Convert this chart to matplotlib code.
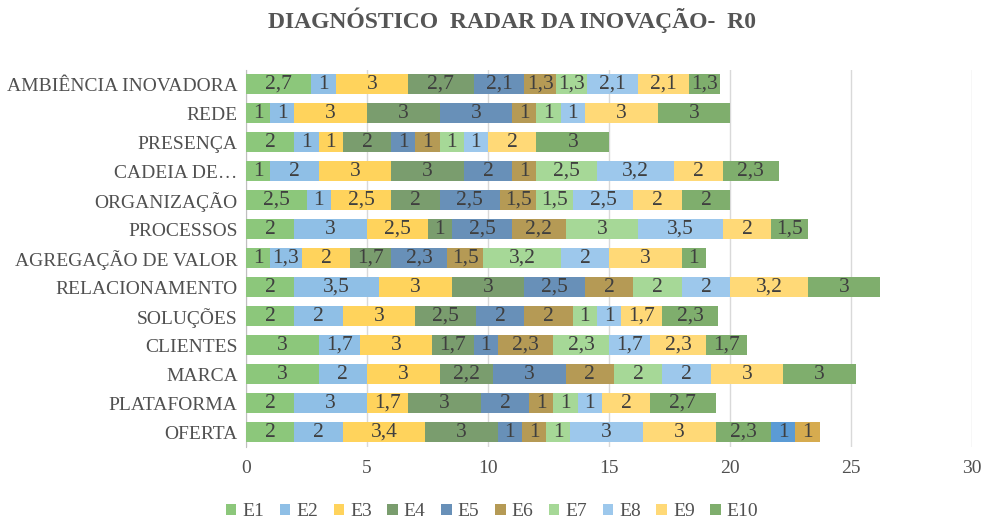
import matplotlib
matplotlib.use("Agg")
import matplotlib.pyplot as plt
import numpy as np

categories = ["AMBIÊNCIA INOVADORA", "REDE", "PRESENÇA", "CADEIA DE…", "ORGANIZAÇÃO",
              "PROCESSOS", "AGREGAÇÃO DE VALOR", "RELACIONAMENTO", "SOLUÇÕES",
              "CLIENTES", "MARCA", "PLATAFORMA", "OFERTA"]

E1 = [2.7, 1, 2, 1, 2.5, 2, 1, 2, 2, 3, 3, 2, 2]
E2 = [1, 1, 1, 2, 1, 3, 1.3, 3.5, 2, 1.7, 2, 3, 2]
E3 = [3, 3, 1, 3, 2.5, 2.5, 2, 3, 3, 3, 3, 1.7, 3.4]
E4 = [2.7, 3, 2, 3, 2, 1, 1.7, 3, 2.5, 1.7, 2.2, 3, 3]
E5 = [2.1, 3, 1, 2, 2.5, 2.5, 2.3, 2.5, 2, 1, 3, 2, 1]
E6 = [1.3, 1, 1, 1, 1.5, 2.2, 1.5, 2, 2, 2.3, 2, 1, 1]
E7 = [1.3, 1, 1, 2.5, 1.5, 3, 3.2, 2, 1, 2.3, 2, 1, 1]
E8 = [2.1, 1, 1, 3.2, 2.5, 3.5, 2, 2, 1, 1.7, 2, 1, 3]
E9 = [2.1, 3, 2, 2, 2, 2, 3, 3.2, 1.7, 2.3, 3, 2, 3]
E10 = [1.3, 3, 3, 2.3, 2, 1.5, 1, 3, 2.3, 1.7, 3, 2.7, 2.3]
E11 = [0, 0, 0, 0, 0, 0, 0, 0, 0, 0, 0, 0, 1]
E12 = [0, 0, 0, 0, 0, 0, 0, 0, 0, 0, 0, 0, 1]

series_names = ["E1", "E2", "E3", "E4", "E5", "E6", "E7", "E8", "E9", "E10", "E11", "E12"]
series = [E1, E2, E3, E4, E5, E6, E7, E8, E9, E10, E11, E12]
colors = ["#8cc77b", "#8fbfe6", "#ffd35c", "#7a9d6e", "#6890b8", "#b59a55",
          "#a6d897", "#9dc8ec", "#ffd977", "#7fae6d", "#5b9bd5", "#d6ab4f"]
in_legend = [True] * 10 + [False, False]

plt.rcParams['font.family'] = ['Liberation Serif', 'DejaVu Serif']

fig = plt.figure(figsize=(9.84, 5.25), dpi=100)
ax = fig.add_axes([0.25, 0.1495, 0.738, 0.7181])

y = np.arange(len(categories))
left = np.zeros(len(categories))
txtcol = "#3f3f3f"
for name, vals, col, leg in zip(series_names, series, colors, in_legend):
    vals = np.array(vals, dtype=float)
    ax.barh(y, vals, left=left, height=0.7, color=col,
            label=name if leg else "_nolegend_", zorder=3)
    for yi, v, l in zip(y, vals, left):
        if v > 0:
            ax.text(l + v / 2, yi, f"{v:g}".replace(".", ","), ha="center", va="center",
                    fontsize=15.5, color=txtcol, zorder=4)
    left += vals

ax.set_ylim(len(categories) - 0.5, -0.5)
ax.set_xlim(0, 30)
ax.set_xticks(range(0, 31, 5))
ax.set_yticks(y)
ax.set_yticklabels(categories, fontsize=14, color="#505050")
ax.tick_params(axis="x", labelsize=14, colors="#505050", length=0, pad=10)
ax.tick_params(axis="y", length=0, pad=6)
ax.grid(axis="x", color="#d9d9d9", linewidth=1, zorder=0)
for s in ["top", "right", "bottom"]:
    ax.spines[s].set_visible(False)
ax.spines["left"].set_color("#bfbfbf")

fig.text(0.52, 0.962, "DIAGNÓSTICO  RADAR DA INOVAÇÃO-  R0", ha="center", va="center",
         fontsize=17, fontweight="bold", color="#555555")

handles, labels = ax.get_legend_handles_labels()
fig.legend(handles, labels, loc="center", bbox_to_anchor=(0.5, 0.025), ncol=10,
           frameon=False, fontsize=14, handlelength=0.55, handleheight=0.55,
           handletextpad=0.3, columnspacing=0.8, labelcolor="#505050")

fig.savefig("out.png", dpi=100)
